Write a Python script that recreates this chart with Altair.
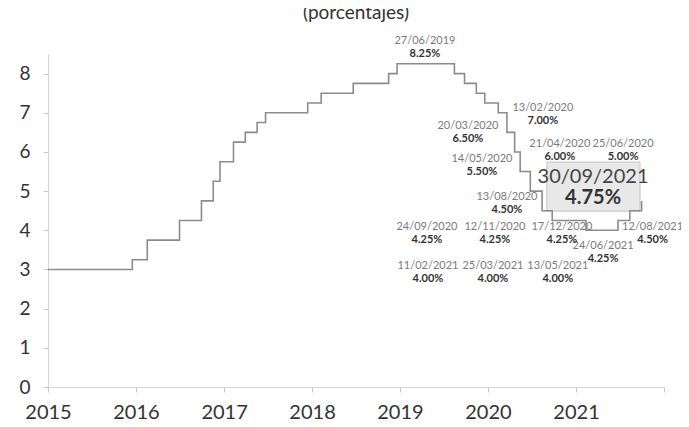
import altair as alt
import pandas as pd

# ---- data: policy-rate decisions (step series) ----
change_dates = [
    "2015-01-01", "2015-12-17", "2016-02-17", "2016-06-30", "2016-09-29",
    "2016-11-17", "2016-12-15", "2017-02-09", "2017-03-30", "2017-05-18",
    "2017-06-22", "2017-12-14", "2018-02-08", "2018-06-21", "2018-11-15",
    "2018-12-20", "2019-08-15", "2019-09-26", "2019-11-14", "2019-12-19",
    "2020-02-13", "2020-03-20", "2020-04-21", "2020-05-14", "2020-06-25",
    "2020-08-13", "2020-09-24", "2021-02-11", "2021-06-24", "2021-08-12",
    "2021-09-30",
]
policy_rate = [
    3.00, 3.25, 3.75, 4.25, 4.75,
    5.25, 5.75, 6.25, 6.50, 6.75,
    7.00, 7.25, 7.50, 7.75, 8.00,
    8.25, 8.00, 7.75, 7.50, 7.25,
    7.00, 6.50, 6.00, 5.50, 5.00,
    4.50, 4.25, 4.00, 4.25, 4.50,
    4.75,
]

# ---- annotation texts ----
label_dates = [
    "27/06/2019", "13/02/2020", "20/03/2020", "21/04/2020", "25/06/2020",
    "14/05/2020", "13/08/2020", "24/09/2020", "12/11/2020", "17/12/2020",
    "24/06/2021", "12/08/2021", "11/02/2021", "25/03/2021", "13/05/2021",
]
label_values = [
    "8.25%", "7.00%", "6.50%", "6.00%", "5.00%",
    "5.50%", "4.50%", "4.25%", "4.25%", "4.25%",
    "4.25%", "4.50%", "4.00%", "4.00%", "4.00%",
]
highlight_date = ["30/09/2021"]
highlight_value = ["4.75%"]

x_years = list(range(2015, 2023))
y_ticks = list(range(0, 9))

# ---- placement of the annotations (decimal year, level) ----
label_pos_year = [
    2019.284, 2020.625, 2019.773, 2020.818, 2021.534,
    2019.932, 2020.216, 2019.307, 2020.080, 2020.841,
    2021.307, 2021.870, 2019.318, 2020.057, 2020.795,
]
label_pos_level = [
    8.83, 7.12, 6.66, 6.20, 6.20,
    5.82, 4.85, 4.08, 4.08, 4.08,
    3.60, 4.08, 3.09, 3.09, 3.09,
]
box_pos_year = [2020.67, 2021.727]
box_pos_level = [4.49, 5.74]
box_text_year = 2021.193
box_text_level = 5.35


def yr(v):
    y = int(v)
    return pd.Timestamp(year=y, month=1, day=1) + pd.Timedelta(days=(v - y) * 365.25)


FONT = "Lato"
GRAY_LINE = "#8c8c8c"

line_df = pd.DataFrame({"date": pd.to_datetime(change_dates), "rate": policy_rate})
labels_df = pd.DataFrame({
    "x": [yr(v) for v in label_pos_year],
    "y": label_pos_level,
    "fecha": label_dates,
    "valor": label_values,
})
box_df = pd.DataFrame({
    "x": [yr(box_pos_year[0])], "x2": [yr(box_pos_year[1])],
    "y": [box_pos_level[0]], "y2": [box_pos_level[1]],
    "tx": [yr(box_text_year)], "ty": [box_text_level],
    "fecha": highlight_date, "valor": highlight_value,
})

x_scale = alt.Scale(domain=[alt.DateTime(year=2015, month=1, date=1),
                            alt.DateTime(year=2022, month=1, date=1)])
y_scale = alt.Scale(domain=[0, 8.5], nice=False, zero=True)

x_axis = alt.Axis(
    values=[alt.DateTime(year=y, month=1, date=1) for y in x_years],
    labelExpr="year(datum.value) < 2022 ? timeFormat(datum.value, '%Y') : ''",
    title=None, grid=False, domainColor="#d4d4d4", tickColor="#c8c8c8",
    tickSize=5, labelFont=FONT, labelFontSize=20, labelColor="#333333",
    labelPadding=10, labelFlush=False, labelOverlap=False,
)
y_axis = alt.Axis(
    values=y_ticks, title=None, grid=False, domainColor="#d4d4d4",
    tickColor="#c8c8c8", tickSize=5, labelFont=FONT, labelFontSize=19,
    labelColor="#333333", labelPadding=13,
)


def xy(xf, yf):
    return dict(
        x=alt.X(xf, scale=x_scale, axis=x_axis),
        y=alt.Y(yf, scale=y_scale, axis=y_axis),
    )


line = alt.Chart(line_df).mark_line(
    interpolate="step-after", color=GRAY_LINE, strokeWidth=1.6
).encode(**xy("date:T", "rate:Q"))

box = alt.Chart(box_df).mark_rect(
    fill="#e8e8e8", stroke="#c2c2c2", strokeWidth=1
).encode(x2="x2:T", y2="y2:Q", **xy("x:T", "y:Q"))

date_text = alt.Chart(labels_df).mark_text(
    font=FONT, fontSize=11, color="#7a7a7a", align="center", baseline="middle"
).encode(text="fecha:N", **xy("x:T", "y:Q"))

value_text = alt.Chart(labels_df).mark_text(
    font=FONT, fontSize=11, fontWeight="bold", color="#333333",
    align="center", baseline="middle", dy=13
).encode(text="valor:N", **xy("x:T", "y:Q"))

box_date = alt.Chart(box_df).mark_text(
    font=FONT, fontSize=20, color="#444444", align="center", baseline="middle"
).encode(text="fecha:N", **xy("tx:T", "ty:Q"))

box_value = alt.Chart(box_df).mark_text(
    font=FONT, fontSize=20, fontWeight="bold", color="#333333",
    align="center", baseline="middle", dy=21
).encode(text="valor:N", **xy("tx:T", "ty:Q"))

chart = alt.layer(box, line, date_text, value_text, box_date, box_value).properties(
    width=616,
    height=333,
    padding={"left": 40, "top": 46, "right": 17, "bottom": 32},
    autosize=alt.AutoSizeParams(type="none"),
    background="white",
    title=alt.TitleParams(
        "(porcentajes)", font=FONT, fontSize=19, fontWeight="normal",
        color="#333333", anchor="middle", offset=12,
    ),
).configure_view(stroke=None)

chart.save("out.html", embed_options={"renderer": "svg", "actions": False})
